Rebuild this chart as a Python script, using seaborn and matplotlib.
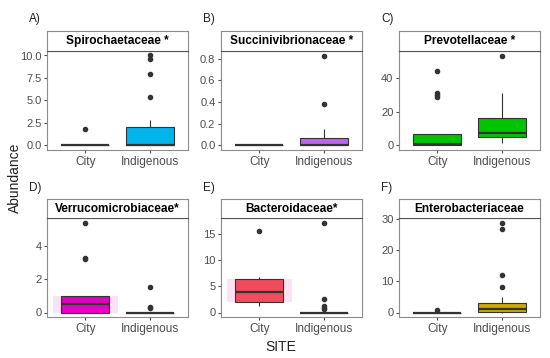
import pandas as pd
import matplotlib
matplotlib.use("Agg")
import matplotlib.pyplot as plt
import seaborn as sns

# %% dados
sites = ["City", "Indigenous"]
familias = ["Spirochaetaceae *", "Succinivibrionaceae *", "Prevotellaceae *",
            "Verrucomicrobiaceae*", "Bacteroidaceae*", "Enterobacteriaceae"]
letras = ["A)", "B)", "C)", "D)", "E)", "F)"]
cores = ["#00b5ec", "#c262f2", "#00c400", "#e400c4", "#f24c5c", "#ccaa00"]

spiro_city = [0] * 16 + [1.8]
spiro_ind = [0, 0, 0, 0, 0, 0, 0.02, 0.04, 0.05, 0.08, 0.1, 0.3, 0.6, 1.0, 1.5, 2.0,
             2.8, 5.4, 7.9, 9.6, 10.0]
succ_city = [0] * 17
succ_ind = [0, 0, 0, 0, 0, 0, 0.005, 0.01, 0.03, 0.07, 0.15, 0.38, 0.83]
prev_city = [0, 0, 0, 0, 0, 0.2, 0.5, 0.8, 1, 2, 3, 5, 7, 29, 30, 31, 44]
prev_ind = [1.4, 3, 5.3, 6, 7.2, 12, 16.3, 31.4, 53.4]
verr_city = [0, 0, 0, 0, 0.1, 0.3, 0.5, 0.6, 0.8, 1.0, 3.2, 3.3, 5.4]
verr_ind = [0] * 14 + [0.25, 0.35, 1.55]
bact_city = [1.3, 1.8, 2.1, 3, 3.9, 5, 6.4, 6.7, 15.6]
bact_ind = [0] * 16 + [0.6, 0.9, 1.2, 2.6, 17.2]
entero_city = [0] * 16 + [0.7]
entero_ind = [0, 0.05, 0.1, 0.15, 0.2, 0.2, 0.4, 0.6, 0.8, 0.9, 1.05, 1.4, 1.8, 2.3,
              2.8, 3.2, 5.0, 8.1, 12.0, 26.8, 28.9]

dados = [(spiro_city, spiro_ind), (succ_city, succ_ind), (prev_city, prev_ind),
         (verr_city, verr_ind), (bact_city, bact_ind), (entero_city, entero_ind)]

yticks = [[0, 2.5, 5, 7.5, 10], [0, 0.2, 0.4, 0.6, 0.8], [0, 20, 40],
          [0, 2, 4], [0, 5, 10, 15], [0, 10, 20, 30]]
ytick_labels = [["0.0", "2.5", "5.0", "7.5", "10.0"], ["0.0", "0.2", "0.4", "0.6", "0.8"],
                ["0", "20", "40"], ["0", "2", "4"], ["0", "5", "10", "15"],
                ["0", "10", "20", "30"]]

# %% figura
plt.rcParams["font.family"] = ["Liberation Sans", "DejaVu Sans"]
W, H = 550, 358
fig = plt.figure(figsize=(5.5, 3.58), dpi=100)

lefts = [47, 221, 399]
largura = 141
linhas = [(31, 51, 150), (199, 218, 317)]  # topo da faixa, topo do painel, base do painel
borda = "#8c8c8c"

for i, (nome, cor) in enumerate(zip(familias, cores)):
    lin, col = divmod(i, 3)
    s_top, p_top, p_bot = linhas[lin]
    l = lefts[col]
    ax = fig.add_axes([l / W, (H - p_bot) / H, largura / W, (p_bot - p_top) / H])
    cidade, indig = dados[i]
    df = pd.DataFrame({"SITE": ["City"] * len(cidade) + ["Indigenous"] * len(indig),
                       "Abundance": cidade + indig})

    # brilho rosado atrás da caixa da cidade (D e E)
    if i in (3, 4):
        sns.boxplot(data=df, x="SITE", y="Abundance", order=sites, ax=ax,
                    color="#fde2f6", saturation=1, width=1.0,
                    linewidth=0, showfliers=False, showcaps=False,
                    whiskerprops={"linewidth": 0}, medianprops={"linewidth": 0},
                    boxprops={"edgecolor": "none"})
        ax.patches[-1].set_visible(False)

    sns.boxplot(data=df, x="SITE", y="Abundance", order=sites, ax=ax, color=cor,
                saturation=1, width=0.75, linecolor="#333333", linewidth=0.8,
                showcaps=False, medianprops={"linewidth": 1.6, "color": "#333333"},
                flierprops={"marker": "o", "markerfacecolor": "#333333",
                            "markeredgecolor": "#333333", "markersize": 3})

    todos = cidade + indig
    faixa = max(todos) - min(todos)
    ax.set_ylim(min(todos) - 0.05 * faixa, max(todos) + 0.05 * faixa)
    ax.set_xlim(-0.6, 1.6)
    ax.set_yticks(yticks[i])
    ax.set_yticklabels(ytick_labels[i])
    ax.set_xlabel("")
    ax.set_ylabel("")
    ax.set_facecolor("white")
    ax.tick_params(axis="both", colors="#4d4d4d", length=2.5, width=0.8, pad=1.5)
    ax.tick_params(axis="y", labelsize=8, labelcolor="#4d4d4d")
    ax.tick_params(axis="x", labelsize=8.6, labelcolor="#4d4d4d")
    for sp in ax.spines.values():
        sp.set_color(borda)
        sp.set_linewidth(0.8)

    # faixa do título (estilo facet do ggplot)
    sx = fig.add_axes([l / W, (H - p_top) / H, largura / W, (p_top - s_top) / H])
    sx.set_xticks([])
    sx.set_yticks([])
    sx.set_facecolor("white")
    for sp in sx.spines.values():
        sp.set_color(borda)
        sp.set_linewidth(0.8)
    sx.spines["bottom"].set_color("#555555")
    sx.text(0.5, 0.5, nome, ha="center", va="center", fontsize=8.6,
            fontweight="bold", color="black", transform=sx.transAxes)

    fig.text((l - 18) / W, (H - (19 if lin == 0 else 188)) / H, letras[i],
             ha="left", va="center", fontsize=8.5, color="#222222")

fig.text(15 / W, (H - 178) / H, "Abundance", rotation=90, ha="center", va="center",
         fontsize=10, color="#222222")
fig.text(281 / W, (H - 347) / H, "SITE", ha="center", va="center",
         fontsize=10, color="#222222")

fig.savefig("out.png", dpi=100, facecolor="white")
